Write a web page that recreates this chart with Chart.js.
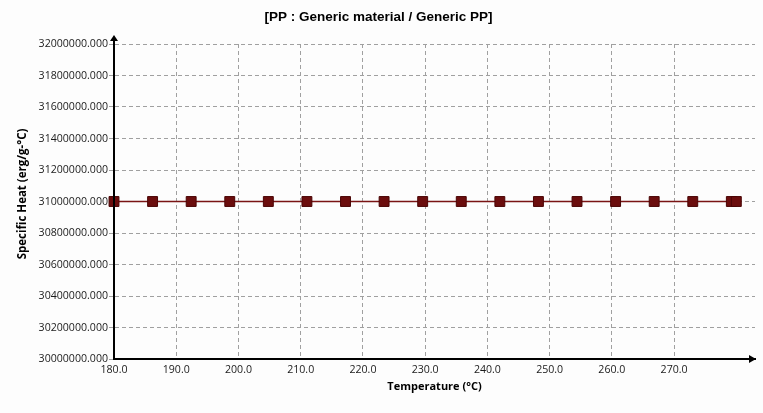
<!DOCTYPE html>
<html>
<head>
<meta charset="utf-8">
<script src="https://cdn.jsdelivr.net/npm/chart.js@4"></script>
<style>
  html, body { margin: 0; padding: 0; background: #fdfdfd; }
  #wrap { width: 763px; height: 413px; position: relative; }
</style>
</head>
<body>
<div id="wrap"><canvas id="c" width="763" height="413"></canvas></div>
<script>
// ---- data ----
const chartTitle = "[PP : Generic material / Generic PP]";
const xAxisTitle = "Temperature (°C)";
const yAxisTitle = "Specific Heat (erg/g-°C)";
const temperatures = [180, 186.2, 192.4, 198.6, 204.8, 211.0, 217.2, 223.4, 229.6, 235.8, 242.0, 248.2, 254.4, 260.6, 266.8, 273.0, 279.2, 280.0];
const specificHeat = [31000000, 31000000, 31000000, 31000000, 31000000, 31000000, 31000000, 31000000, 31000000, 31000000, 31000000, 31000000, 31000000, 31000000, 31000000, 31000000, 31000000, 31000000];
const xTickValues = [180, 190, 200, 210, 220, 230, 240, 250, 260, 270];
const yTickValues = [30000000, 30200000, 30400000, 30600000, 30800000, 31000000, 31200000, 31400000, 31600000, 31800000, 32000000];

const points = temperatures.map((t, i) => ({ x: t, y: specificHeat[i] }));

const FAMILY = "'Open Sans', 'DejaVu Sans', sans-serif";
const tickFont = { family: FAMILY, size: 10.6 };
const xTitleFont = { family: FAMILY, size: 11, weight: 'bold' };
const yTitleSize = 11.5;

const arrowPlugin = {
  id: 'arrows',
  afterDraw(chart) {
    const { ctx, chartArea: a } = chart;
    ctx.save();
    ctx.strokeStyle = '#000';
    ctx.fillStyle = '#000';
    ctx.lineWidth = 2;
    ctx.setLineDash([]);
    // y axis line with arrow
    ctx.beginPath();
    ctx.moveTo(a.left, a.bottom + 1);
    ctx.lineTo(a.left, a.top - 6);
    ctx.stroke();
    ctx.beginPath();
    ctx.moveTo(a.left, a.top - 9);
    ctx.lineTo(a.left - 4, a.top - 3);
    ctx.lineTo(a.left + 4, a.top - 3);
    ctx.closePath();
    ctx.fill();
    // x axis line with arrow
    ctx.beginPath();
    ctx.moveTo(a.left - 1, a.bottom);
    ctx.lineTo(a.right - 4, a.bottom);
    ctx.stroke();
    ctx.beginPath();
    ctx.moveTo(a.right + 1, a.bottom);
    ctx.lineTo(a.right - 6, a.bottom - 4);
    ctx.lineTo(a.right - 6, a.bottom + 4);
    ctx.closePath();
    ctx.fill();
    // y axis title
    ctx.save();
    ctx.translate(23, 194);
    ctx.rotate(-Math.PI / 2);
    ctx.font = `bold ${yTitleSize}px ${FAMILY}`;
    ctx.textAlign = 'center';
    ctx.textBaseline = 'middle';
    ctx.fillText(yAxisTitle, 0, 0);
    ctx.restore();
    ctx.restore();
  }
};

new Chart(document.getElementById('c'), {
  type: 'scatter',
  data: {
    datasets: [{
      data: points,
      showLine: true,
      borderColor: '#7a1414',
      borderWidth: 1.5,
      backgroundColor: '#6b0d0d',
      pointStyle: 'rect',
      pointRadius: 7,
      pointHoverRadius: 7,
      pointBorderColor: '#4a0505',
      pointBorderWidth: 1,
      clip: false
    }]
  },
  options: {
    responsive: false,
    animation: false,
    events: [],
    layout: { padding: { left: 0, right: 6, top: 0, bottom: 20 } },
    plugins: {
      legend: { display: false },
      tooltip: { enabled: false },
      title: {
        display: true,
        text: chartTitle,
        color: '#000',
        font: { family: "'Liberation Sans', Arial, sans-serif", size: 13.5, weight: 'bold' },
        padding: { top: 9, bottom: 18.8 }
      }
    },
    scales: {
      x: {
        type: 'linear',
        min: 180,
        max: 283,
        afterBuildTicks(scale) { scale.ticks = xTickValues.map(v => ({ value: v })); },
        afterFit(scale) { scale.height = 34; },
        grid: {
          color: '#a0a0a0',
          lineWidth: 1,
          drawTicks: false
        },
        border: { display: true, color: '#000', width: 2, dash: [4, 3] },
        ticks: {
          color: '#1a1a1a',
          font: tickFont,
          padding: 5,
          maxRotation: 0,
          autoSkip: false,
          callback: v => Number(v).toFixed(1)
        },
        title: {
          display: true,
          text: xAxisTitle,
          color: '#000',
          font: xTitleFont,
          padding: 0
        }
      },
      y: {
        type: 'linear',
        min: 30000000,
        max: 32000000,
        afterBuildTicks(scale) { scale.ticks = yTickValues.map(v => ({ value: v })); },
        afterFit(scale) { scale.width = 114; },
        grid: {
          color: '#a0a0a0',
          lineWidth: 1,
          drawTicks: true,
          tickLength: 5,
          tickColor: '#a0a0a0'
        },
        border: { display: true, color: '#000', width: 2, dash: [4, 3] },
        ticks: {
          color: '#1a1a1a',
          font: tickFont,
          padding: 1,
          autoSkip: false,
          callback: v => Number(v).toFixed(3)
        },
        title: { display: false, text: yAxisTitle }
      }
    }
  },
  plugins: [arrowPlugin]
});
</script>
</body>
</html>
